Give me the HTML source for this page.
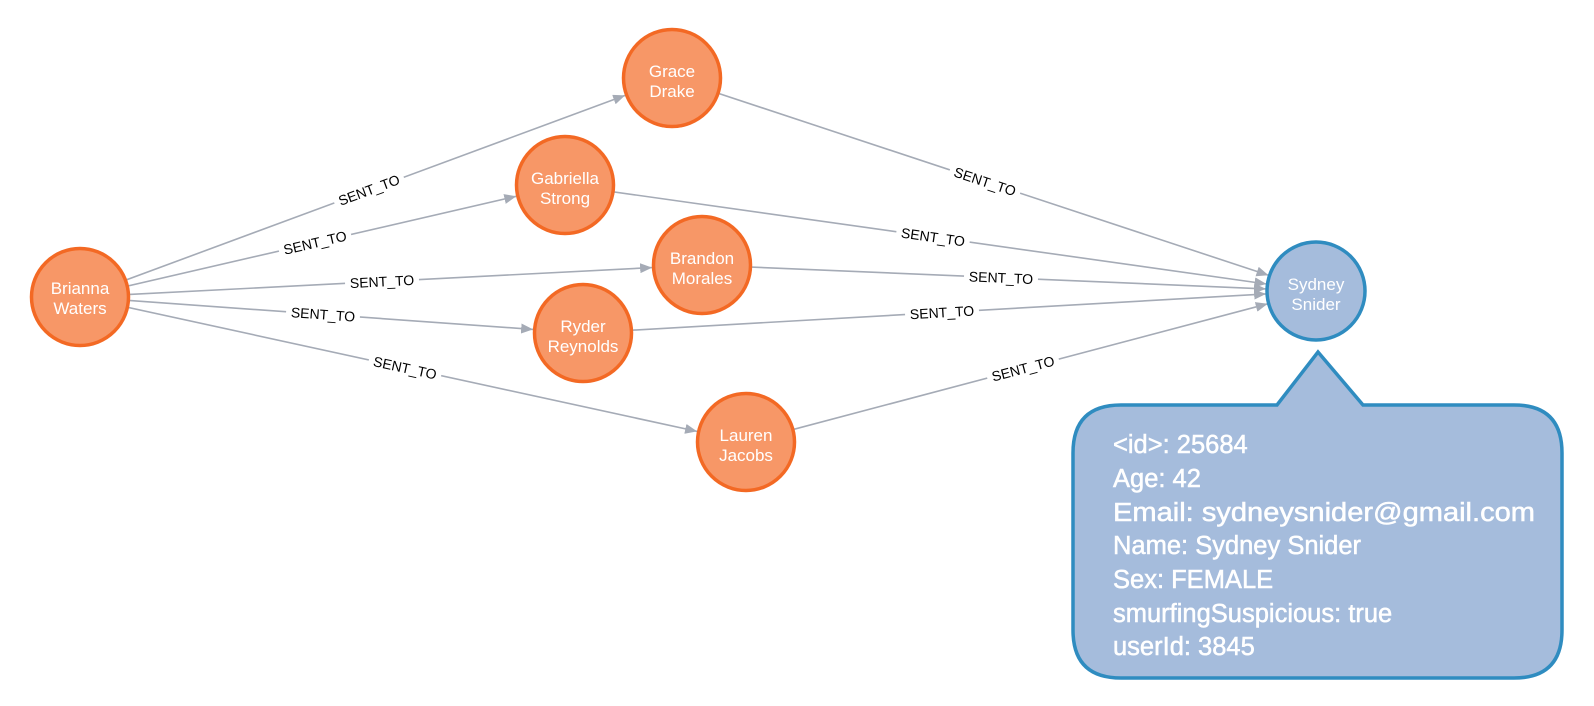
<!DOCTYPE html>
<html><head><meta charset="utf-8"><style>
html,body{margin:0;padding:0;background:#fff;}
svg{display:block;font-family:"Liberation Sans",Arial,sans-serif;}
.e{stroke:#a5abb6;stroke-width:1.6;fill:none;}
.lb rect{fill:#fff;}
.lb text{font-size:14px;fill:#000;text-anchor:middle;}
.n{fill:#f79767;stroke:#f36924;stroke-width:3.5;}
.nt{font-size:17px;fill:#fff;text-anchor:middle;}
</style></head><body>
<svg width="1594" height="706" viewBox="0 0 1594 706">
<defs>
<marker id="a" viewBox="0 0 12 10" refX="12" refY="5" markerWidth="12" markerHeight="10" markerUnits="userSpaceOnUse" orient="auto">
<path d="M0,0 L12,5 L0,10 Z" fill="#a5abb6"/></marker>
</defs>
<line class="e" x1="80" y1="297" x2="625.1" y2="95.4" marker-end="url(#a)"/>
<line class="e" x1="80" y1="297" x2="516.3" y2="196.3" marker-end="url(#a)"/>
<line class="e" x1="80" y1="297" x2="652.1" y2="267.6" marker-end="url(#a)"/>
<line class="e" x1="80" y1="297" x2="533.1" y2="329.4" marker-end="url(#a)"/>
<line class="e" x1="80" y1="297" x2="697.1" y2="431.4" marker-end="url(#a)"/>
<line class="e" x1="672" y1="78" x2="1268.5" y2="275.3" marker-end="url(#a)"/>
<line class="e" x1="565" y1="185" x2="1266.5" y2="284" marker-end="url(#a)"/>
<line class="e" x1="702" y1="265" x2="1266" y2="288.9" marker-end="url(#a)"/>
<line class="e" x1="583" y1="333" x2="1266.1" y2="293.9" marker-end="url(#a)"/>
<line class="e" x1="746" y1="442" x2="1267.7" y2="303.8" marker-end="url(#a)"/>

<g class="lb" transform="translate(369,190) rotate(-20.3)"><rect x="-37" y="-8" width="74" height="16"/><text y="5">SENT_TO</text></g>
<g class="lb" transform="translate(315,242.7) rotate(-13)"><rect x="-37" y="-8" width="74" height="16"/><text y="5">SENT_TO</text></g>
<g class="lb" transform="translate(382,281.5) rotate(-2.9)"><rect x="-37" y="-8" width="74" height="16"/><text y="5">SENT_TO</text></g>
<g class="lb" transform="translate(323,314.4) rotate(4.1)"><rect x="-37" y="-8" width="74" height="16"/><text y="5">SENT_TO</text></g>
<g class="lb" transform="translate(405,367.8) rotate(12.3)"><rect x="-37" y="-8" width="74" height="16"/><text y="5">SENT_TO</text></g>
<g class="lb" transform="translate(985,181.5) rotate(18.3)"><rect x="-37" y="-8" width="74" height="16"/><text y="5">SENT_TO</text></g>
<g class="lb" transform="translate(933,237) rotate(8)"><rect x="-37" y="-8" width="74" height="16"/><text y="5">SENT_TO</text></g>
<g class="lb" transform="translate(1001,277.7) rotate(2.4)"><rect x="-37" y="-8" width="74" height="16"/><text y="5">SENT_TO</text></g>
<g class="lb" transform="translate(942,312.4) rotate(-3.3)"><rect x="-37" y="-8" width="74" height="16"/><text y="5">SENT_TO</text></g>
<g class="lb" transform="translate(1023,368.6) rotate(-14.8)"><rect x="-37" y="-8" width="74" height="16"/><text y="5">SENT_TO</text></g>

<circle class="n" cx="80" cy="297" r="48.5"/>
<text class="nt" x="80" y="294">Brianna</text><text class="nt" x="80" y="314">Waters</text>
<circle class="n" cx="672" cy="78" r="48.5"/>
<text class="nt" x="672" y="77">Grace</text><text class="nt" x="672" y="97">Drake</text>
<circle class="n" cx="565" cy="185" r="48.5"/>
<text class="nt" x="565" y="184">Gabriella</text><text class="nt" x="565" y="204">Strong</text>
<circle class="n" cx="702" cy="265" r="48.5"/>
<text class="nt" x="702" y="264">Brandon</text><text class="nt" x="702" y="284">Morales</text>
<circle class="n" cx="583" cy="333" r="48.5"/>
<text class="nt" x="583" y="332">Ryder</text><text class="nt" x="583" y="352">Reynolds</text>
<circle class="n" cx="746" cy="442" r="48.5"/>
<text class="nt" x="746" y="441">Lauren</text><text class="nt" x="746" y="461">Jacobs</text>

<circle cx="1316" cy="291" r="49" fill="#a5bcdc" stroke="#2f8cc0" stroke-width="3.5"/>
<text class="nt" x="1316" y="290">Sydney</text><text class="nt" x="1316" y="310">Snider</text>

<path d="M1121,405 H1277 L1318,352 L1363,405 H1514 Q1562,405 1562,453 V630 Q1562,678 1514,678 H1121 Q1073,678 1073,630 V453 Q1073,405 1121,405 Z" fill="#a5bcdc" stroke="#2f8cc0" stroke-width="3.5"/>
<g font-size="25.5" fill="#fff" stroke="#fff" stroke-width="0.5">
<text x="1113" y="453">&lt;id&gt;: 25684</text>
<text x="1113" y="487">Age: 42</text>
<text x="1113" y="521" textLength="422" lengthAdjust="spacingAndGlyphs">Email: sydneysnider@gmail.com</text>
<text x="1113" y="554">Name: Sydney Snider</text>
<text x="1113" y="588">Sex: FEMALE</text>
<text x="1113" y="622">smurfingSuspicious: true</text>
<text x="1113" y="655">userId: 3845</text>
</g>
</svg>
</body></html>
